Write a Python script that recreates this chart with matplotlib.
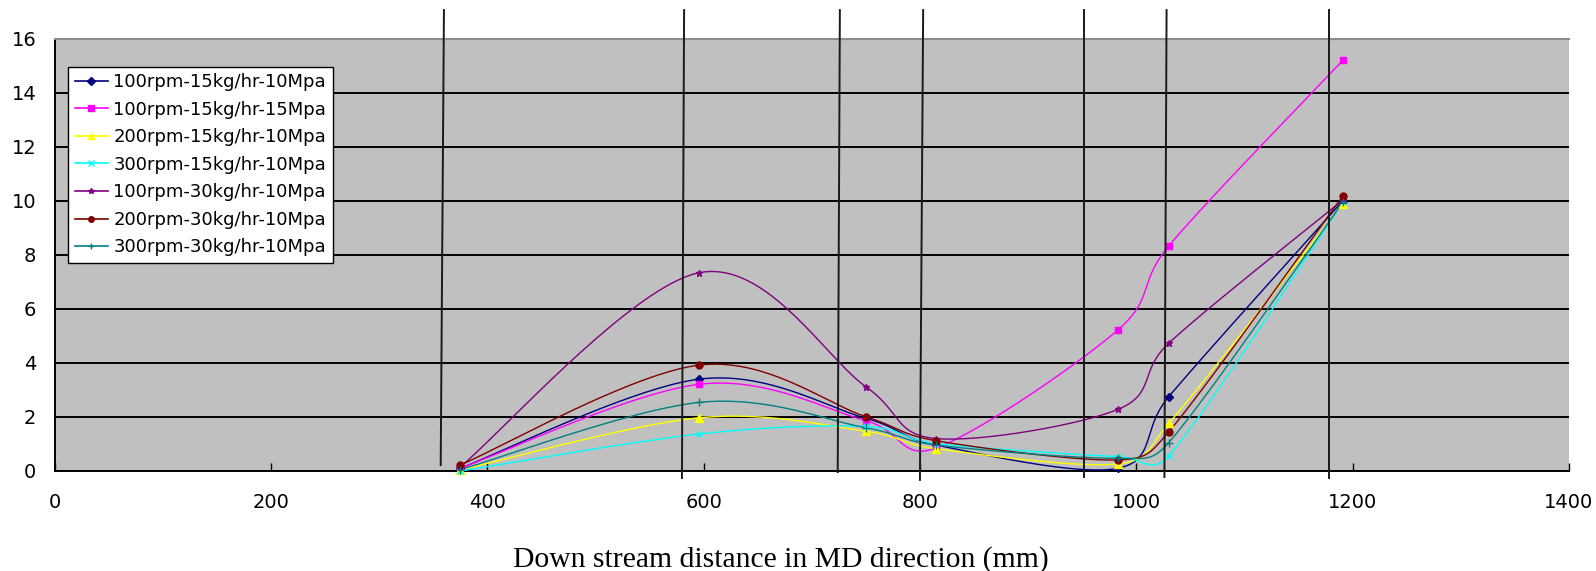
import numpy as np
import matplotlib
matplotlib.use("Agg")
import matplotlib.pyplot as plt
from matplotlib.lines import Line2D

# Measurement positions along the machine direction (mm)
distance_mm = [375, 596, 750, 815, 983, 1030, 1191]

series_labels = [
    "100rpm-15kg/hr-10Mpa",
    "100rpm-15kg/hr-15Mpa",
    "200rpm-15kg/hr-10Mpa",
    "300rpm-15kg/hr-10Mpa",
    "100rpm-30kg/hr-10Mpa",
    "200rpm-30kg/hr-10Mpa",
    "300rpm-30kg/hr-10Mpa",
]

v_100rpm_15kg_10mpa = [0.10, 3.40, 1.95, 0.96, 0.10, 2.75, 10.00]
v_100rpm_15kg_15mpa = [0.10, 3.21, 1.86, 0.85, 5.22, 8.33, 15.20]
v_200rpm_15kg_10mpa = [0.04, 1.97, 1.47, 0.82, 0.26, 1.76, 9.88]
v_300rpm_15kg_10mpa = [0.00, 1.37, 1.65, 1.02, 0.53, 0.56, 9.94]
v_100rpm_30kg_10mpa = [0.15, 7.34, 3.12, 1.20, 2.28, 4.73, 10.03]
v_200rpm_30kg_10mpa = [0.22, 3.92, 2.01, 1.12, 0.41, 1.45, 10.18]
v_300rpm_30kg_10mpa = [0.05, 2.54, 1.60, 0.96, 0.47, 1.05, 9.95]

x_ticks = [0, 200, 400, 600, 800, 1000, 1200, 1400]
y_ticks = [0, 2, 4, 6, 8, 10, 12, 14, 16]

# Zone boundaries drawn across the chart (top x, bottom x, bottom y)
zone_x_top = [360, 582, 726, 803, 952, 1028, 1178]
zone_x_bottom = [357, 580, 724, 800, 952, 1026, 1178]
zone_y_bottom = [0.22, -0.26, -0.04, -0.33, -0.22, -0.22, -0.26]
zone_y_top = 17.06

all_values = [v_100rpm_15kg_10mpa, v_100rpm_15kg_15mpa, v_200rpm_15kg_10mpa,
              v_300rpm_15kg_10mpa, v_100rpm_30kg_10mpa, v_200rpm_30kg_10mpa,
              v_300rpm_30kg_10mpa]

colors = ["#000080", "#FF00FF", "#FFFF00", "#00FFFF", "#800080", "#800000", "#008080"]
markers = ["D", "s", "^", "x", "*", "o", "+"]
msizes = [4.5, 5, 6, 5, 5, 5, 6]

W, H = 1596, 571
fig = plt.figure(figsize=(W / 100, H / 100), dpi=100)
ax_l, ax_r, ax_t, ax_b = 54.5, 1569, 38.7, 471
ax = fig.add_axes([ax_l / W, 1 - ax_b / H, (ax_r - ax_l) / W, (ax_b - ax_t) / H])
ax.set_xlim(0, 1400)
ax.set_ylim(0, 16)
ax.set_facecolor("#C0C0C0")


def smooth_curve(ax, xs, ys, n=40):
    """Bezier smoothing of a polyline in screen space (spreadsheet style)."""
    pts = ax.transData.transform(np.column_stack([xs, ys]))
    N = len(pts)
    out = [pts[0]]
    for i in range(N - 1):
        p0 = pts[max(i - 1, 0)]
        p1 = pts[i]
        p2 = pts[i + 1]
        p3 = pts[min(i + 2, N - 1)]
        d02 = np.hypot(*(p2 - p0))
        d12 = np.hypot(*(p2 - p1))
        d13 = np.hypot(*(p3 - p1))
        f = 1 / 6
        if d02 / 6 < d12 / 2 and d13 / 6 < d12 / 2:
            f0 = f1 = f
        else:
            f0 = d12 / d02 / 2 if d02 / 6 >= d12 / 2 else f
            f1 = d12 / d13 / 2 if d13 / 6 >= d12 / 2 else f
        c1 = p1 + (p2 - p0) * f0
        c2 = p2 - (p3 - p1) * f1
        t = np.linspace(0, 1, n)[1:, None]
        seg = ((1 - t) ** 3) * p1 + 3 * ((1 - t) ** 2) * t * c1 \
            + 3 * (1 - t) * (t ** 2) * c2 + (t ** 3) * p2
        out.extend(seg)
    return ax.transData.inverted().transform(np.array(out))


ax.yaxis.grid(True, color="black", linewidth=1.4)
ax.set_axisbelow(True)

for vals, label, c, m, ms in zip(all_values, series_labels, colors, markers, msizes):
    curve = smooth_curve(ax, distance_mm, vals)
    ax.plot(curve[:, 0], curve[:, 1], color=c, lw=1.0, zorder=3, clip_on=False)
    ax.plot(distance_mm, vals, linestyle="None", color=c, marker=m,
            markersize=ms, markeredgewidth=1.0, zorder=4, clip_on=False)

leg_handles = [Line2D([], [], color=c, lw=1.2, marker=m, markersize=ms * 0.8)
               for c, m, ms in zip(colors, markers, msizes)]
leg = ax.legend(leg_handles, series_labels, loc="upper left",
                bbox_to_anchor=((68.3 - ax_l) / (ax_r - ax_l), (ax_b - 66.7) / (ax_b - ax_t)),
                prop={"family": "DejaVu Sans", "size": 13}, frameon=True,
                fancybox=False, shadow=False, framealpha=1, edgecolor="black",
                borderpad=0.35, labelspacing=0.53, handlelength=1.85,
                handletextpad=0.3, borderaxespad=0)
leg.get_frame().set_linewidth(1.0)
leg.set_zorder(6)

# Zone boundary lines
for xt, xb, yb in zip(zone_x_top, zone_x_bottom, zone_y_bottom):
    ax.plot([xt, xb], [zone_y_top, yb], color="#1a1a1a", lw=1.4, zorder=5,
            clip_on=False)

ax.set_xticks(x_ticks)
ax.set_yticks(y_ticks)
ax.tick_params(axis="x", direction="in", length=6, width=1, pad=16,
               labelsize=14, colors="black")
ax.tick_params(axis="y", length=0, pad=13, labelsize=14, colors="black")
for lab in ax.get_xticklabels() + ax.get_yticklabels():
    lab.set_family("DejaVu Sans")

for side in ["left", "bottom"]:
    ax.spines[side].set_color("black")
    ax.spines[side].set_linewidth(1.4)
ax.spines["top"].set_color("#8c8c8c")
ax.spines["top"].set_linewidth(1.5)
ax.spines["right"].set_visible(False)

fig.text(781 / W, 1 - 560 / H, "Down stream distance in MD direction (mm)",
         ha="center", va="center", family="Liberation Serif", fontsize=21.3)

fig.savefig("out.png", dpi=100)
